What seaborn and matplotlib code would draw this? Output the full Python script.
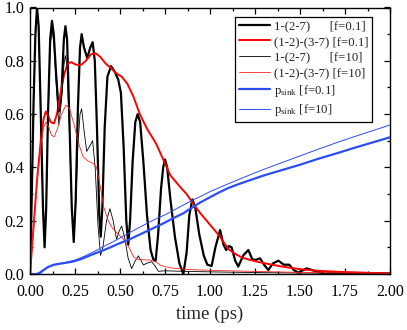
import matplotlib
matplotlib.use("Agg")
import matplotlib.pyplot as plt
from matplotlib.ticker import MultipleLocator, FormatStrFormatter
import seaborn as sns

# thick black: 1-(2-7) [f=0.1]
t_k1 = [0.000, 0.010, 0.020, 0.030, 0.039, 0.048, 0.060, 0.072, 0.081, 0.090,
        0.100, 0.112, 0.122, 0.132, 0.145, 0.160, 0.175, 0.188, 0.197, 0.206,
        0.218, 0.232, 0.243, 0.254, 0.266, 0.278, 0.287, 0.300, 0.318, 0.335,
        0.348, 0.360, 0.372, 0.385, 0.393, 0.402, 0.415, 0.430, 0.450, 0.470,
        0.490, 0.505, 0.520, 0.535, 0.546, 0.556, 0.570, 0.585, 0.598, 0.612,
        0.630, 0.650, 0.670, 0.685, 0.698, 0.712, 0.728, 0.740, 0.750, 0.762,
        0.780, 0.805, 0.830, 0.852, 0.870, 0.885, 0.902, 0.918, 0.940, 0.965,
        0.985, 1.009, 1.030, 1.056, 1.075, 1.090, 1.105, 1.120, 1.140, 1.157,
        1.185, 1.213, 1.235, 1.255, 1.278, 1.300, 1.324, 1.350, 1.380, 1.410,
        1.440, 1.465, 1.490, 1.537, 1.580, 1.640, 1.680, 1.720, 1.800, 2.000]
v_k1 = [0.00, 0.30, 0.65, 0.90, 1.00, 0.93, 0.60, 0.25, 0.10, 0.25,
        0.60, 0.88, 0.95, 0.90, 0.75, 0.61, 0.68, 0.88, 0.93, 0.88,
        0.60, 0.25, 0.12, 0.28, 0.62, 0.85, 0.90, 0.85, 0.81, 0.85,
        0.87, 0.80, 0.55, 0.22, 0.14, 0.25, 0.55, 0.74, 0.78, 0.76,
        0.73, 0.68, 0.48, 0.20, 0.11, 0.20, 0.42, 0.57, 0.60, 0.57,
        0.42, 0.22, 0.09, 0.055, 0.05, 0.15, 0.32, 0.40, 0.43, 0.40,
        0.28, 0.14, 0.04, 0.00, 0.08, 0.22, 0.28, 0.25, 0.15, 0.07,
        0.035, 0.03, 0.10, 0.165, 0.11, 0.09, 0.105, 0.10, 0.05, 0.028,
        0.07, 0.09, 0.055, 0.053, 0.059, 0.035, 0.015, 0.04, 0.05, 0.035,
        0.035, 0.015, 0.005, 0.021, 0.012, 0.000, 0.006, 0.002, 0.004, 0.002]

# thick red: (1-2)-(3-7) [f=0.1]
t_r1 = [0.000, 0.020, 0.040, 0.060, 0.075, 0.088, 0.100, 0.115, 0.133, 0.150,
        0.170, 0.190, 0.210, 0.230, 0.255, 0.285, 0.310, 0.340, 0.365, 0.390,
        0.420, 0.445, 0.480, 0.510, 0.540, 0.575, 0.610, 0.650, 0.700, 0.740,
        0.780, 0.830, 0.870, 0.910, 0.950, 1.000, 1.050, 1.100, 1.140, 1.185,
        1.250, 1.320, 1.400, 1.500, 1.600, 1.720, 1.850, 2.000]
v_r1 = [0.00, 0.18, 0.36, 0.50, 0.58, 0.61, 0.595, 0.57, 0.565, 0.60,
        0.68, 0.75, 0.79, 0.795, 0.785, 0.785, 0.80, 0.825, 0.828, 0.815,
        0.79, 0.775, 0.753, 0.74, 0.715, 0.665, 0.60, 0.545, 0.49, 0.43,
        0.37, 0.33, 0.30, 0.26, 0.225, 0.185, 0.145, 0.095, 0.075, 0.06,
        0.048, 0.038, 0.028, 0.018, 0.012, 0.008, 0.005, 0.002]

# thin black: 1-(2-7) [f=10]
t_k2 = [0.000, 0.010, 0.020, 0.030, 0.039, 0.048, 0.060, 0.072, 0.081, 0.090,
        0.100, 0.112, 0.122, 0.132, 0.145, 0.160, 0.175, 0.188, 0.196, 0.206,
        0.218, 0.232, 0.243, 0.254, 0.266, 0.278, 0.287, 0.300, 0.315, 0.332,
        0.348, 0.362, 0.378, 0.392, 0.405, 0.425, 0.444, 0.462, 0.481, 0.495,
        0.509, 0.525, 0.545, 0.565, 0.585, 0.602, 0.617, 0.630, 0.655, 0.676,
        0.695, 0.713, 0.750, 0.850, 1.000, 1.300, 1.600, 2.000]
v_k2 = [0.00, 0.30, 0.65, 0.90, 1.00, 0.93, 0.60, 0.25, 0.10, 0.25,
        0.58, 0.85, 0.92, 0.87, 0.72, 0.56, 0.65, 0.78, 0.82, 0.78,
        0.55, 0.25, 0.15, 0.25, 0.48, 0.60, 0.62, 0.54, 0.46, 0.48,
        0.50, 0.40, 0.18, 0.07, 0.10, 0.20, 0.245, 0.20, 0.13, 0.16,
        0.18, 0.14, 0.06, 0.02, 0.05, 0.068, 0.05, 0.034, 0.042, 0.046,
        0.03, 0.01, 0.012, 0.010, 0.008, 0.005, 0.003, 0.002]

# thin red: (1-2)-(3-7) [f=10]
t_r2 = [0.000, 0.020, 0.040, 0.060, 0.075, 0.090, 0.105, 0.120, 0.135, 0.155,
        0.175, 0.200, 0.220, 0.245, 0.270, 0.295, 0.320, 0.350, 0.370, 0.390,
        0.410, 0.435, 0.460, 0.490, 0.520, 0.550, 0.575, 0.600, 0.640, 0.670,
        0.700, 0.725, 0.770, 0.850, 0.950, 1.100, 1.300, 1.500, 1.750, 2.000]
v_r2 = [0.00, 0.17, 0.35, 0.48, 0.55, 0.57, 0.55, 0.52, 0.515, 0.55,
        0.60, 0.634, 0.62, 0.56, 0.49, 0.44, 0.425, 0.415, 0.40, 0.33,
        0.25, 0.20, 0.17, 0.15, 0.13, 0.10, 0.065, 0.055, 0.053, 0.052,
        0.045, 0.033, 0.024, 0.018, 0.015, 0.012, 0.009, 0.006, 0.004, 0.002]

# p_sink [f=0.1] (thick blue)
t_b1 = [0.000, 0.040, 0.060, 0.080, 0.100, 0.130, 0.160, 0.200, 0.240, 0.280,
        0.320, 0.360, 0.400, 0.450, 0.500, 0.550, 0.600, 0.650, 0.700, 0.750,
        0.800, 0.850, 0.900, 0.950, 1.000, 1.050, 1.100, 1.150, 1.200, 1.300,
        1.400, 1.500, 1.600, 1.700, 1.800, 1.900, 2.000]
v_b1 = [0.000, 0.000, 0.006, 0.017, 0.026, 0.034, 0.038, 0.042, 0.047, 0.055,
        0.066, 0.077, 0.087, 0.101, 0.116, 0.129, 0.145, 0.161, 0.177, 0.193,
        0.211, 0.227, 0.249, 0.270, 0.288, 0.306, 0.322, 0.335, 0.347, 0.370,
        0.390, 0.410, 0.432, 0.452, 0.473, 0.493, 0.513]

# p_sink [f=10] (thin blue)
t_b2 = [0.000, 0.030, 0.050, 0.070, 0.100, 0.130, 0.160, 0.200, 0.250, 0.300,
        0.350, 0.400, 0.450, 0.500, 0.550, 0.600, 0.650, 0.700, 0.750, 0.800,
        0.850, 0.900, 0.950, 1.000, 1.100, 1.200, 1.300, 1.400, 1.500, 1.600,
        1.700, 1.800, 1.900, 2.000]
v_b2 = [0.000, 0.000, 0.005, 0.015, 0.027, 0.035, 0.039, 0.044, 0.052, 0.066,
        0.082, 0.100, 0.117, 0.135, 0.154, 0.172, 0.190, 0.207, 0.222, 0.240,
        0.258, 0.276, 0.292, 0.309, 0.338, 0.366, 0.393, 0.418, 0.443, 0.468,
        0.492, 0.515, 0.537, 0.559]

labels = ["1-(2-7)      [f=0.1]",
          "(1-2)-(3-7) [f=0.1]",
          "1-(2-7)      [f=10]",
          "(1-2)-(3-7) [f=10]",
          r"p$_{\rm sink}$ [f=0.1]",
          r"p$_{\rm sink}$ [f=10]"]

sns.set_theme(style="ticks")
plt.rcParams["font.family"] = ["Liberation Serif", "DejaVu Serif"]
plt.rcParams["mathtext.fontset"] = "custom"
plt.rcParams["mathtext.rm"] = "Liberation Serif"
plt.rcParams["mathtext.it"] = "Liberation Serif:italic"

fig = plt.figure(figsize=(4.07, 3.30), dpi=100)
ax = fig.add_axes([30 / 407, 56 / 330, 360 / 407, 266.5 / 330])

series = [
    (t_k1, v_k1, "black", 1.6),
    (t_r1, v_r1, "#ff0000", 1.4),
    (t_k2, v_k2, "black", 0.6),
    (t_r2, v_r2, "#ff2020", 0.6),
    (t_b1, v_b1, "#2a4ef5", 1.6),
    (t_b2, v_b2, "#2a4ef5", 0.7),
]
for (t, v, c, lw), lab in zip(series, labels):
    sns.lineplot(x=t, y=v, color=c, linewidth=lw, label=lab, ax=ax, sort=False)

ax.set_xlim(0, 2.0)
ax.set_ylim(0, 1.0)
ax.xaxis.set_major_locator(MultipleLocator(0.25))
ax.xaxis.set_minor_locator(MultipleLocator(0.125))
ax.yaxis.set_major_locator(MultipleLocator(0.2))
ax.yaxis.set_minor_locator(MultipleLocator(0.1))
ax.xaxis.set_major_formatter(FormatStrFormatter("%.2f"))
ax.yaxis.set_major_formatter(FormatStrFormatter("%.1f"))
ax.tick_params(which="both", direction="in", top=True, right=True,
               width=0.9, colors="black", labelsize=11.5)
ax.tick_params(axis="x", which="major", pad=7)
ax.tick_params(axis="y", which="major", pad=4)
ax.tick_params(which="major", length=4)
ax.tick_params(which="minor", length=2)
for sp in ax.spines.values():
    sp.set_visible(True)
    sp.set_linewidth(1.0)
    sp.set_color("black")
ax.set_xlabel("time (ps)", fontsize=13.5, labelpad=4)
ax.set_ylabel("")

leg = ax.legend(loc="upper right", bbox_to_anchor=(0.95, 0.966), borderaxespad=0,
                fontsize=9.2, frameon=True, fancybox=False, edgecolor="black",
                framealpha=1, handlelength=2.4, handletextpad=0.3,
                labelspacing=0.28, borderpad=0.3)
leg.get_frame().set_linewidth(0.9)

fig.savefig("out.png", dpi=100)
